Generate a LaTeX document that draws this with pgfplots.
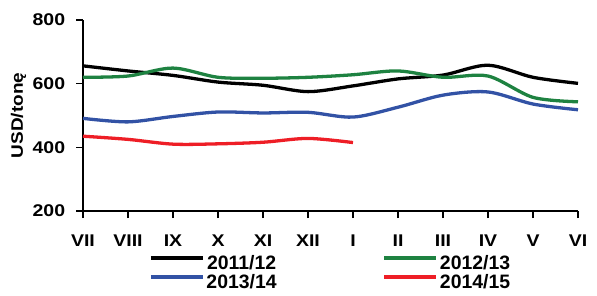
\documentclass[border=0pt]{standalone}
\usepackage{pgfplots}
\pgfplotsset{compat=1.18}
\usepackage{fontspec}
\setmainfont[FakeStretch=1.15]{Liberation Sans}
\newfontfamily\legfont{Liberation Sans}
\definecolor{cgreen}{RGB}{30,130,65}
\definecolor{cblue}{RGB}{50,82,165}
\definecolor{cred}{RGB}{238,30,38}
\begin{document}
\fontsize{17}{19}\selectfont\bfseries
\begin{tikzpicture}
\useasboundingbox (-83bp,-85bp) rectangle (514bp,211bp);
\begin{axis}[
  at={(0,0)}, anchor=south west,
  scale only axis, width=495bp, height=191bp,
  xmin=0, xmax=11, ymin=200, ymax=800,
  xtick={0,...,11},
  xticklabels={VII,VIII,IX,X,XI,XII,I,II,III,IV,V,VI},
  ytick={200,400,600,800},
  axis x line*=bottom, axis y line*=left,
  axis line style={line width=1.3pt, -},
  tick style={line width=1.3pt, black},
  tick align=outside, major tick length=7bp,
  /pgf/number format/assume math mode=true,
  ticklabel style={font=\fontsize{17}{19}\selectfont\bfseries},
  xticklabel style={yshift=-11bp},
  yticklabel style={xshift=-5bp},
  ylabel={USD/tonę},
  ylabel style={font=\fontsize{16.6}{18}\selectfont\bfseries, yshift=-5bp},
  clip=false,
  legend columns=2,
  legend style={draw=none, fill=none, at={(66/495,-0.23)}, anchor=north west,
    font=\legfont\fontsize{19.5}{20}\selectfont\bfseries, inner sep=0pt, row sep=2.5bp,
    nodes={inner sep=0pt},
    /tikz/every even column/.append style={column sep=106bp},
    /tikz/every odd column/.append style={column sep=2bp}},
  legend image code/.code={\draw[#1] (0bp,5.5bp) -- (52bp,5.5bp);},
  every axis plot/.append style={line width=3.3pt, smooth, no markers},
]
\addplot[black] coordinates {(0,656)(1,640)(2,626)(3,605)(4,595)(5,575)(6,593)(7,615)(8,627)(9,658)(10,620)(11,601)};
\addlegendentry{2011/12}
\addplot[cgreen] coordinates {(0,620)(1,624)(2,649)(3,620)(4,617)(5,620)(6,628)(7,640)(8,620)(9,624)(10,557)(11,543)};
\addlegendentry{2012/13}
\addplot[cblue] coordinates {(0,491)(1,480)(2,497)(3,511)(4,508)(5,510)(6,495)(7,526)(8,564)(9,574)(10,536)(11,518)};
\addlegendentry{2013/14}
\addplot[cred] coordinates {(0,435)(1,425)(2,410)(3,411)(4,416)(5,428)(6,415)};
\addlegendentry{2014/15}
\end{axis}
\end{tikzpicture}
\end{document}
